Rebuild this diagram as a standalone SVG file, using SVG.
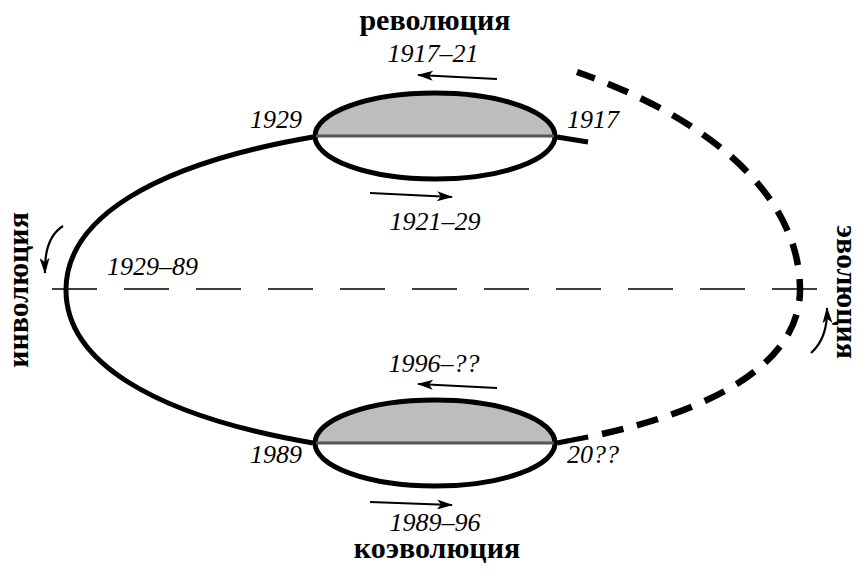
<svg xmlns="http://www.w3.org/2000/svg" width="858" height="575" viewBox="0 0 858 575">
<style>
.bg{fill:#fff}
.num{font-family:"Liberation Serif","Times New Roman",serif;font-style:italic;font-size:26px;fill:#000}
.title{font-family:"Liberation Serif","Times New Roman",serif;font-weight:bold;font-size:30px;fill:#000}
.half{fill:#bdbdbd;stroke:none}
.ell{fill:none;stroke:#000;stroke-width:5}
.div{stroke:#555;stroke-width:3}
.solid{fill:none;stroke:#000;stroke-width:5;stroke-linecap:butt}
.dash{fill:none;stroke:#000;stroke-width:6.5;stroke-dasharray:22 14;stroke-dashoffset:11}
.axis{fill:none;stroke:#000;stroke-width:1.6;stroke-dasharray:45 27}
.arr{fill:none;stroke:#000;stroke-width:2.2;marker-end:url(#ah)}
</style>
<defs>
<marker id="ah" viewBox="0 0 16 10" refX="15" refY="5" markerWidth="17" markerHeight="10" markerUnits="userSpaceOnUse" orient="auto">
<path d="M0,0 L16,5 L0,10 L4,5 Z" fill="#000"/>
</marker>
</defs>
<rect class="bg" x="0" y="0" width="858" height="575"/>

<g id="connectors">
<path class="solid" d="M313,137 C150,165 66,220 66,290 C66,360 150,415 313,443"/>
<path class="solid" d="M557,137 L588,142"/>
<path class="solid" d="M557,443 L588,437"/>
<path class="dash" d="M800,290 C800,190 700,115 577,72 M800,290 C800,360 720,410 588,437"/>
<path class="axis" d="M52,289 L826,289"/>
<path class="arr" d="M497,79 L418,75"/>
<path class="arr" d="M370,193 L452,197"/>
<path class="arr" d="M497,388 L418,384"/>
<path class="arr" d="M370,502 L452,505"/>
<path class="arr" d="M63,226 Q44,238 45,273"/>
<path class="arr" d="M811,353 Q828,338 827,308"/>
</g>

<g id="revolution-node">
<path class="half" d="M315,136 A120,43 0 0 1 555,136 Z"/>
<ellipse class="ell" cx="435" cy="136" rx="120" ry="43"/>
<line class="div" x1="316" y1="136" x2="554" y2="136"/>
</g>

<g id="coevolution-node">
<path class="half" d="M315,443 A120,43 0 0 1 555,443 Z"/>
<ellipse class="ell" cx="435" cy="443" rx="120" ry="43"/>
<line class="div" x1="316" y1="443" x2="554" y2="443"/>
</g>

<g id="labels">
<text class="title" x="435" y="30" text-anchor="middle">революция</text>
<text class="title" x="437" y="558" text-anchor="middle">коэволюция</text>
<text class="title" transform="translate(28,290) rotate(-90)" text-anchor="middle">инволюция</text>
<text class="title" transform="translate(837,292) rotate(90)" text-anchor="middle">эволюция</text>
<text class="num" x="433" y="62" text-anchor="middle">1917–21</text>
<text class="num" x="250" y="128">1929</text>
<text class="num" x="567" y="128">1917</text>
<text class="num" x="435" y="230" text-anchor="middle">1921–29</text>
<text class="num" x="107" y="275">1929–89</text>
<text class="num" x="434" y="372" text-anchor="middle">1996–??</text>
<text class="num" x="250" y="463">1989</text>
<text class="num" x="567" y="463">20??</text>
<text class="num" x="435" y="531" text-anchor="middle">1989–96</text>
</g>
</svg>
